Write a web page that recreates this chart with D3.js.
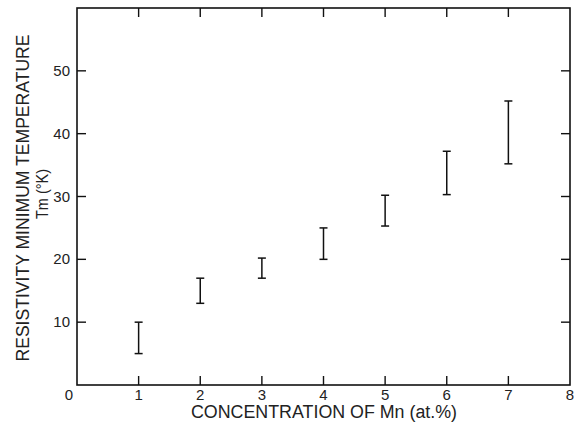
<!DOCTYPE html>
<html>
<head>
<meta charset="utf-8">
<script src="https://cdn.jsdelivr.net/npm/d3@7"></script>
<style>
  body { margin: 0; background: #fff; }
  text { font-family: "Liberation Sans", "DejaVu Sans", sans-serif; fill: #222; }
</style>
</head>
<body>
<div id="chart"></div>
<script>
// data: Mn concentration vs resistivity-minimum temperature range
const conc = [1, 2, 3, 4, 5, 6, 7];
const tmLow = [5, 13, 17, 20, 25.3, 30.3, 35.2];
const tmHigh = [10, 17, 20.2, 25, 30.2, 37.2, 45.2];
const xTicks = [1, 2, 3, 4, 5, 6, 7];
const yTicks = [10, 20, 30, 40, 50];
const xLabels = ["0", "1", "2", "3", "4", "5", "6", "7", "8"];

const W = 574, H = 425;
const MARGIN = {top: 8, right: 4, bottom: 40, left: 77};

const svg = d3.select("#chart").append("svg")
    .attr("width", W)
    .attr("height", H);

const x = d3.scaleLinear().domain([0, 8]).range([MARGIN.left, W - MARGIN.right]);
const y = d3.scaleLinear().domain([0, 60]).range([H - MARGIN.bottom, MARGIN.top]);

const TICK = 9;

// frame
svg.append("rect")
    .attr("x", x(0)).attr("y", y(60))
    .attr("width", x(8) - x(0)).attr("height", y(0) - y(60))
    .attr("fill", "none").attr("stroke", "#111").attr("stroke-width", 1.6);

// inward ticks, bottom + top
const g = svg.append("g").attr("stroke", "#111").attr("stroke-width", 1.4);
g.selectAll(".xb").data(xTicks).join("line")
    .attr("x1", d => x(d)).attr("x2", d => x(d))
    .attr("y1", y(0)).attr("y2", y(0) - TICK);
g.selectAll(".xt").data(xTicks).join("line")
    .attr("x1", d => x(d)).attr("x2", d => x(d))
    .attr("y1", y(60)).attr("y2", y(60) + TICK);
// left + right
g.selectAll(".yl").data(yTicks).join("line")
    .attr("x1", x(0)).attr("x2", x(0) + TICK)
    .attr("y1", d => y(d)).attr("y2", d => y(d));
g.selectAll(".yr").data(yTicks).join("line")
    .attr("x1", x(8)).attr("x2", x(8) - TICK)
    .attr("y1", d => y(d)).attr("y2", d => y(d));

// tick labels
svg.selectAll(".xl").data(xLabels).join("text")
    .attr("x", (d, i) => i == 0 ? x(0) - 8 : x(i))
    .attr("y", y(0) + 15)
    .attr("text-anchor", "middle")
    .attr("font-size", 15)
    .text(d => d);

svg.selectAll(".ylab").data(yTicks).join("text")
    .attr("x", x(0) - 7)
    .attr("y", d => y(d) + 5)
    .attr("text-anchor", "end")
    .attr("font-size", 15)
    .text(d => d);

// axis titles (lettering is narrow, so squeeze to the measured length)
svg.append("text")
    .attr("x", 324)
    .attr("y", 418)
    .attr("text-anchor", "middle")
    .attr("font-size", 18)
    .attr("textLength", 266)
    .attr("lengthAdjust", "spacingAndGlyphs")
    .text("CONCENTRATION OF Mn (at.%)");

svg.append("text")
    .attr("transform", `translate(29,198) rotate(-90)`)
    .attr("text-anchor", "middle")
    .attr("font-size", 18)
    .attr("textLength", 327)
    .attr("lengthAdjust", "spacingAndGlyphs")
    .text("RESISTIVITY MINIMUM TEMPERATURE");

svg.append("text")
    .attr("transform", `translate(48,194) rotate(-90)`)
    .attr("text-anchor", "middle")
    .attr("font-size", 17)
    .attr("textLength", 50)
    .attr("lengthAdjust", "spacingAndGlyphs")
    .text("Tm (°K)");

// error bars
const bars = svg.append("g").attr("stroke", "#111").attr("stroke-width", 1.5);
const CAP = 4;
conc.forEach((c, i) => {
    bars.append("line")
        .attr("x1", x(c)).attr("x2", x(c))
        .attr("y1", y(tmLow[i])).attr("y2", y(tmHigh[i]));
    [tmLow[i], tmHigh[i]].forEach(v => {
        bars.append("line")
            .attr("x1", x(c) - CAP).attr("x2", x(c) + CAP)
            .attr("y1", y(v)).attr("y2", y(v));
    });
});
</script>
</body>
</html>
